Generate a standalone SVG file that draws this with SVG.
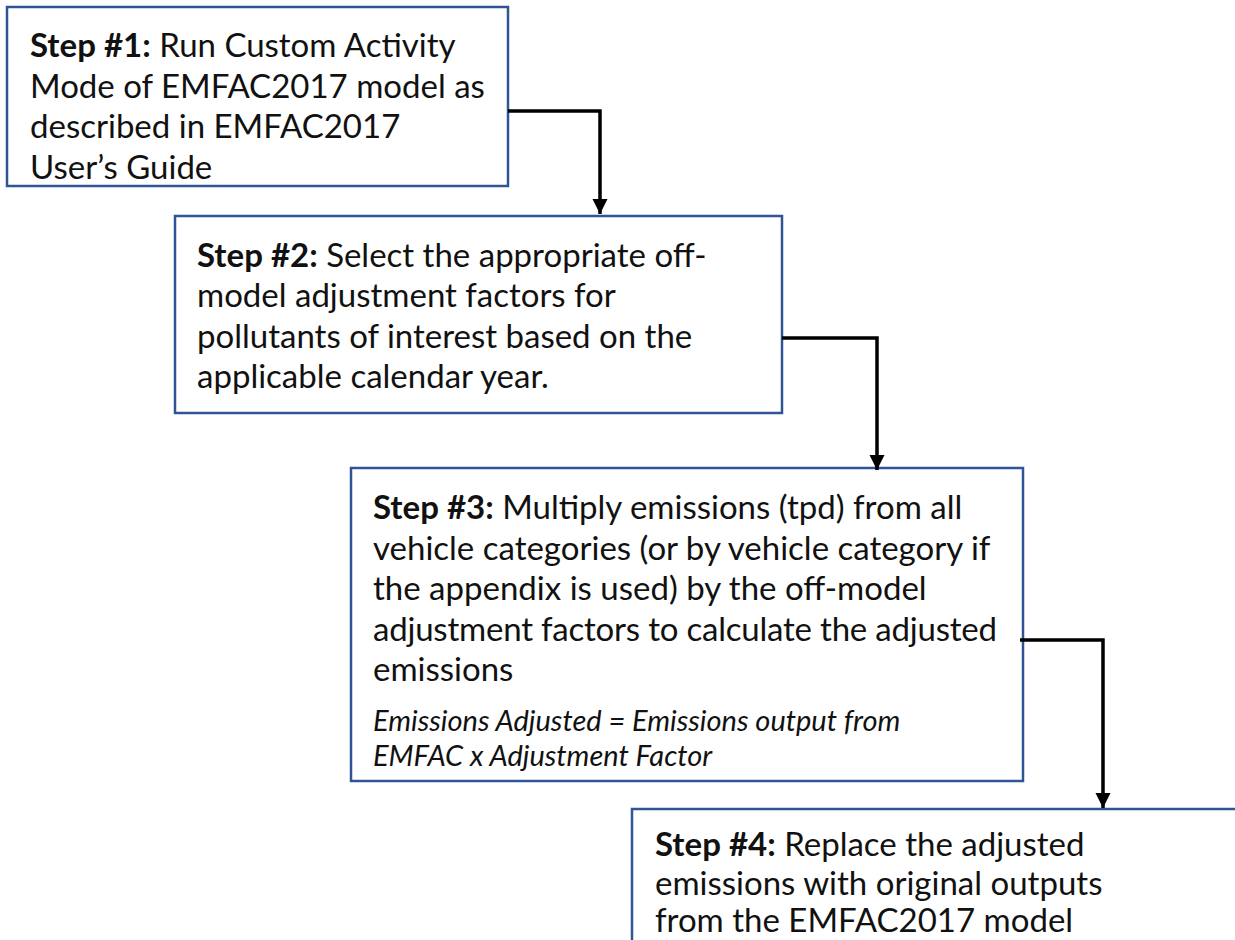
<svg xmlns="http://www.w3.org/2000/svg" width="1235" height="940" viewBox="0 0 1235 940">
<defs>
<style>
.box{fill:#ffffff;stroke:#2F5597;stroke-width:2.5}
.t{font-family:Lato,"Noto Sans","Liberation Sans",sans-serif;font-size:33px;fill:#111111}
.b{font-weight:bold}
.i{font-style:italic;font-size:29px}
.conn{fill:none;stroke:#000000;stroke-width:3.5}
</style>
<marker id="arr" markerUnits="userSpaceOnUse" markerWidth="16" markerHeight="16" refX="15" refY="7.5" orient="auto">
<path d="M0,0 L15,7.5 L0,15 z" fill="#000000"/>
</marker>
</defs>
<rect width="1235" height="940" fill="#ffffff"/>
<g id="step1">
<rect class="box" x="7" y="7" width="501" height="179"/>
<text class="t" x="30" y="57"><tspan class="b">Step #1:</tspan> Run Custom Activity</text>
<text class="t" x="30" y="97.5">Mode of EMFAC2017 model as</text>
<text class="t" x="30" y="138">described in EMFAC2017</text>
<text class="t" x="30" y="178.5">User’s Guide</text>
</g>
<g id="step2">
<rect class="box" x="175" y="216" width="607" height="197"/>
<text class="t" x="197" y="266.5"><tspan class="b">Step #2:</tspan> Select the appropriate off-</text>
<text class="t" x="197" y="307">model adjustment factors for</text>
<text class="t" x="197" y="347.5">pollutants of interest based on the</text>
<text class="t" x="197" y="388">applicable calendar year.</text>
</g>
<g id="step3">
<rect class="box" x="351" y="468" width="672" height="313"/>
<text class="t" x="373" y="519"><tspan class="b">Step #3:</tspan> Multiply emissions (tpd) from all</text>
<text class="t" x="373" y="559.5">vehicle categories (or by vehicle category if</text>
<text class="t" x="373" y="600">the appendix is used) by the off-model</text>
<text class="t" x="373" y="640.5" textLength="624" lengthAdjust="spacing">adjustment factors to calculate the adjusted</text>
<text class="t" x="373" y="681">emissions</text>
<text class="t i" x="373" y="731">Emissions Adjusted = Emissions output from</text>
<text class="t i" x="373" y="766">EMFAC x Adjustment Factor</text>
</g>
<g id="step4">
<rect class="box" x="632" y="809" width="700" height="200"/>
<text class="t" x="655" y="856"><tspan class="b">Step #4:</tspan> Replace the adjusted</text>
<text class="t" x="655" y="895">emissions with original outputs</text>
<text class="t" x="655" y="932">from the EMFAC2017 model</text>
</g>
<g id="connectors">
<path class="conn" d="M508,111 H600 V214" marker-end="url(#arr)"/>
<path class="conn" d="M782,338 H877 V470" marker-end="url(#arr)"/>
<path class="conn" d="M1020,640 H1103 V808" marker-end="url(#arr)"/>
</g>
</svg>
